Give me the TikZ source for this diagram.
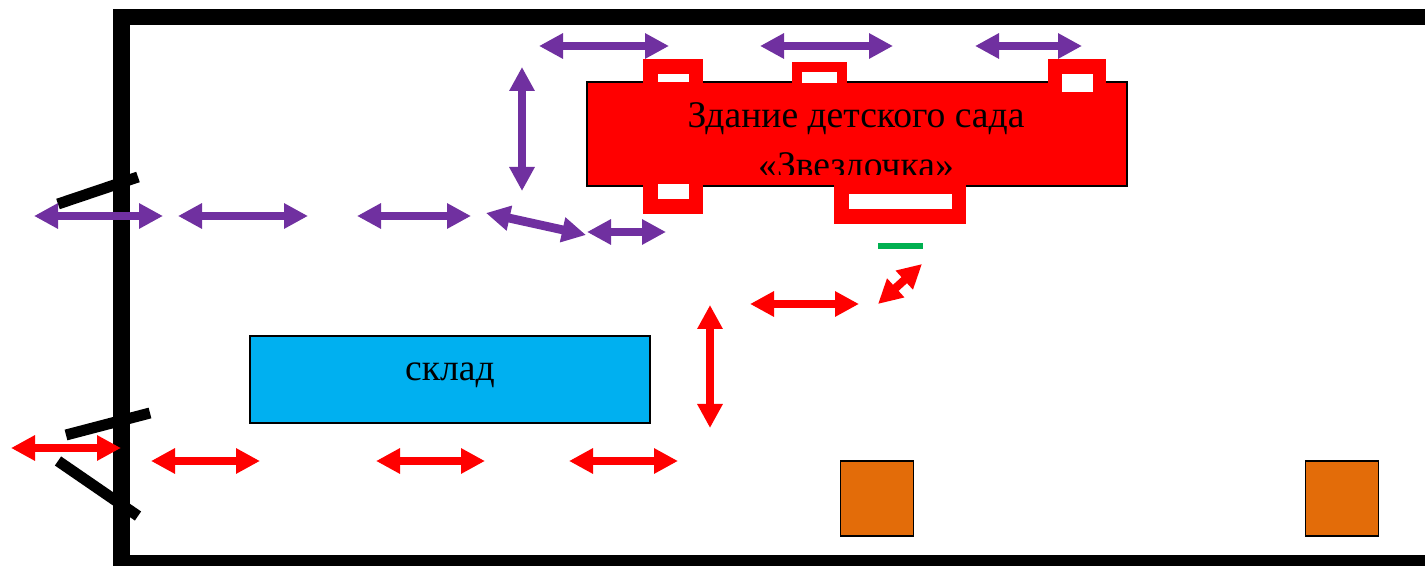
\documentclass[tikz,border=0pt]{standalone}
\usepackage{fontspec}
\setmainfont{Liberation Serif}
\usetikzlibrary{arrows.meta}
\definecolor{arrowpurple}{HTML}{7030A0}
\definecolor{storeblue}{HTML}{00B0F0}
\definecolor{plotorange}{HTML}{E36C09}
\definecolor{pathgreen}{HTML}{00B050}
\tikzset{
  blockarrow/.style={line width=4.4pt,{Triangle[length=12pt,width=12pt]}-{Triangle[length=12pt,width=12pt]}},
  purplearrow/.style={blockarrow,draw=arrowpurple,color=arrowpurple},
  redarrow/.style={blockarrow,line width=4.1pt,draw=red,color=red},
  gatebar/.style={line width=5.5pt,black},
  roomwall/.style={fill=red},
  roomhole/.style={fill=white},
  plotbox/.style={draw=black,line width=0.6pt,fill=plotorange,minimum width=36.5pt,minimum height=37.5pt,inner sep=0pt},
  labelbox/.style={draw=black,line width=0.9pt,inner sep=0pt}
}
\begin{document}
\begin{tikzpicture}[x=0.5pt,y=-0.5pt]
      \clip (0,0) rectangle (1425,566);
      \fill[white] (0,0) rectangle (1425,566);
      % fence
      \draw[line width=8.3pt,black] (1440,17) -- (121.5,17) -- (121.5,563.5) -- (1440,563.5);
      \coordinate (gateA) at (58,204);
      \coordinate (gateB) at (138,177);
      \coordinate (gateC) at (66,435);
      \coordinate (gateD) at (150,413);
      \coordinate (gateE) at (58,461);
      \coordinate (gateF) at (138,516);
      \draw[gatebar] (gateA) -- (gateB);
      \draw[gatebar] (gateC) -- (gateD);
      \draw[gatebar] (gateE) -- (gateF);
      % buildings
      \node[labelbox,fill=red,minimum width=270pt,minimum height=52pt] (building) at (857,134) {};
      \node[labelbox,fill=storeblue,minimum width=200pt,minimum height=43.5pt] (store) at (450,379.5) {};
      \node[font=\fontsize{18.8}{25}\selectfont] (storetext) at (450,375) {склад};
      \node[plotbox] (plotA) at (877,498.5) {};
      \node[plotbox] (plotB) at (1342,498.5) {};
      % rooms
      \fill[roomwall] (643,59) rectangle (703,86);
      \fill[roomhole] (658,74) rectangle (689,82);
      \fill[roomwall] (791.5,62) rectangle (847,86);
      \fill[roomhole] (802,72) rectangle (837,83);
      \fill[roomwall] (1048,59) rectangle (1106,86);
      \fill[roomhole] (1062,74) rectangle (1093,92);
      \fill[roomwall] (643,182) rectangle (703,214);
      \fill[roomhole] (658,184) rectangle (689,199);
      \fill[roomwall] (834,182) rectangle (966,224);
      \fill[roomhole] (849,194) rectangle (952,209);
      \begin{scope}
        \clip (587,82) rectangle (1127,175);
        \node[align=center,font=\fontsize{18.8}{25}\selectfont,inner sep=0pt] (buildingtext) at (856,144) {Здание детского сада\\«Звездочка»};
      \end{scope}
      \coordinate (markA) at (878,246);
      \coordinate (markB) at (923,246);
      \draw[line width=2.7pt,pathgreen] (markA) -- (markB);
      % purple route
      \coordinate (pA) at (34,216);
      \coordinate (pB) at (163,216);
      \coordinate (pC) at (178,216);
      \coordinate (pD) at (308,216);
      \coordinate (pE) at (357,216);
      \coordinate (pF) at (471,216);
      \coordinate (pG) at (486,213);
      \coordinate (pH) at (586,235);
      \coordinate (pI) at (587,232);
      \coordinate (pJ) at (666,232);
      \coordinate (pK) at (522,67);
      \coordinate (pL) at (522,191);
      \coordinate (pM) at (539,46);
      \coordinate (pN) at (669,46);
      \coordinate (pO) at (760,46);
      \coordinate (pP) at (893,46);
      \coordinate (pQ) at (975,46);
      \coordinate (pR) at (1082,46);
      \draw[purplearrow] (pA) -- (pB);
      \draw[purplearrow] (pC) -- (pD);
      \draw[purplearrow] (pE) -- (pF);
      \draw[purplearrow] (pG) -- (pH);
      \draw[purplearrow] (pI) -- (pJ);
      \draw[purplearrow] (pK) -- (pL);
      \draw[purplearrow] (pM) -- (pN);
      \draw[purplearrow] (pO) -- (pP);
      \draw[purplearrow] (pQ) -- (pR);
      % red route
      \coordinate (rA) at (11,448);
      \coordinate (rB) at (121,448);
      \coordinate (rC) at (151,461);
      \coordinate (rD) at (260,461);
      \coordinate (rE) at (376,461);
      \coordinate (rF) at (485,461);
      \coordinate (rG) at (569,461);
      \coordinate (rH) at (678,461);
      \coordinate (rI) at (710,305);
      \coordinate (rJ) at (710,428);
      \coordinate (rK) at (750,304);
      \coordinate (rL) at (859,304);
      \coordinate (rM) at (878,304);
      \coordinate (rN) at (922,264);
      \draw[redarrow] (rA) -- (rB);
      \draw[redarrow] (rC) -- (rD);
      \draw[redarrow] (rE) -- (rF);
      \draw[redarrow] (rG) -- (rH);
      \draw[redarrow] (rI) -- (rJ);
      \draw[redarrow] (rK) -- (rL);
      \draw[redarrow] (rM) -- (rN);
\end{tikzpicture}
\end{document}
